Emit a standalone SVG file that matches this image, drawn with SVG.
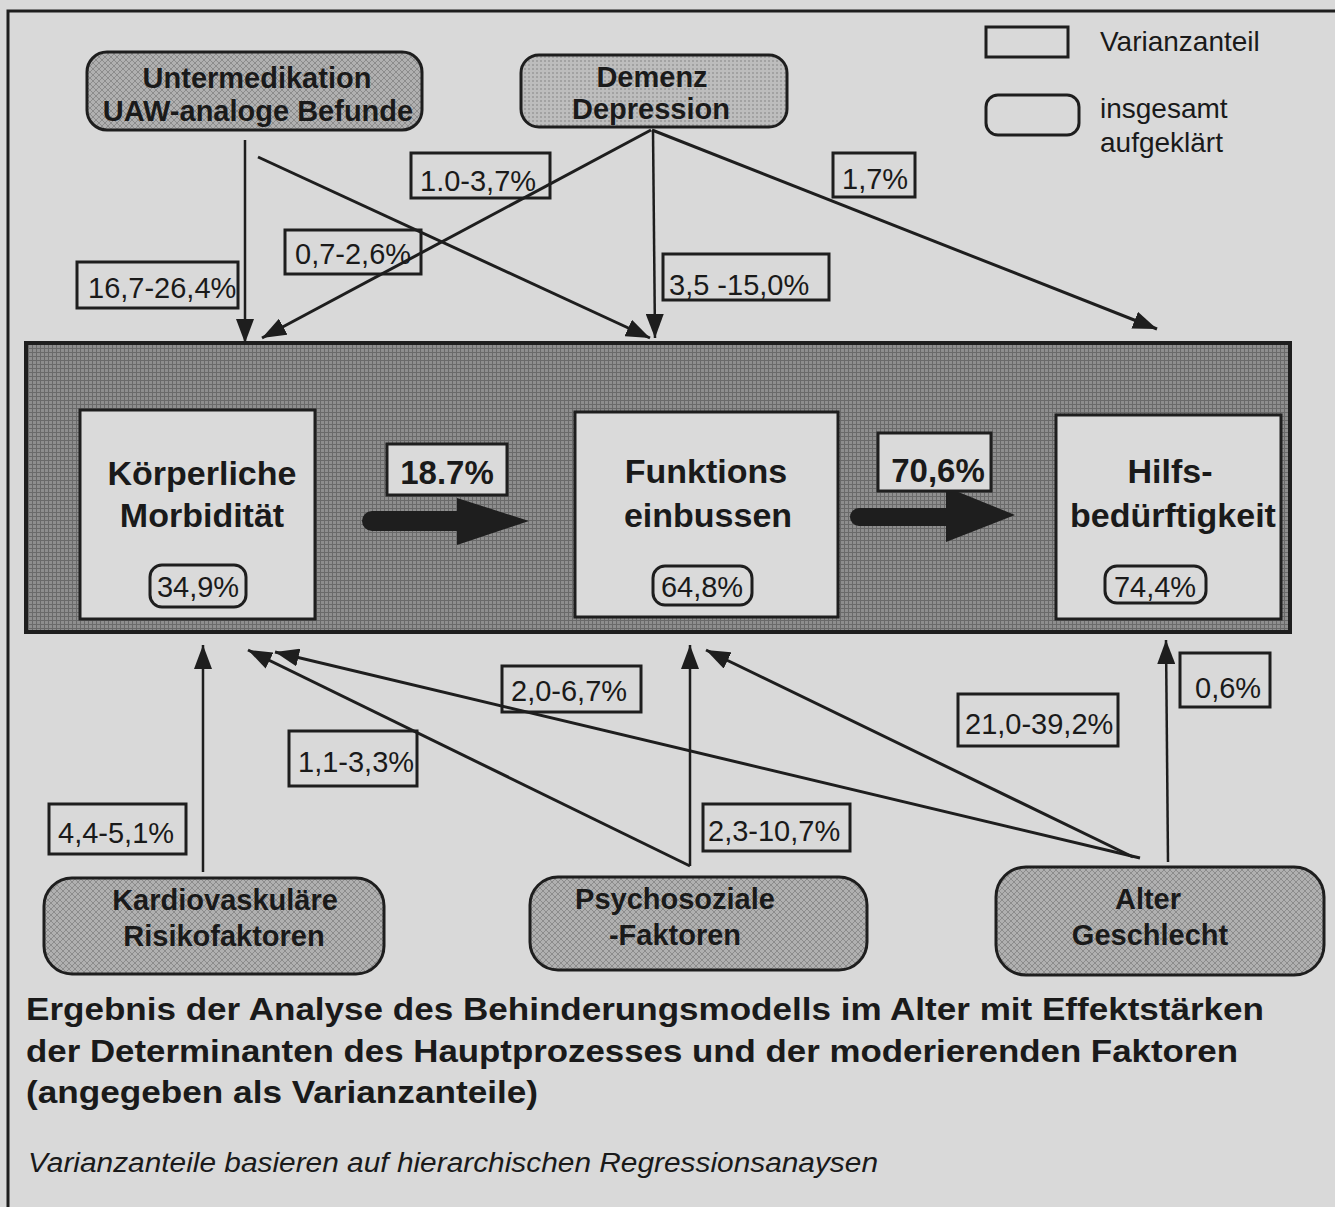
<svg xmlns="http://www.w3.org/2000/svg" width="1335" height="1207" viewBox="0 0 1335 1207">
<defs>
<style>
.bg{fill:#d9d9d9}
.ln{stroke:#1e1e1e;stroke-width:2.5;fill:none}
.lnb{stroke:#1e1e1e;stroke-width:3;fill:none}
.lbl{fill:none;stroke:#1e1e1e;stroke-width:3}
.t{font-family:"Liberation Sans",Arial,sans-serif;fill:#1a1a1a}
.lt{font-size:29px}
.nb{font-weight:bold;font-size:29px;text-anchor:middle}
.mb{font-weight:bold;font-size:34px;text-anchor:middle}
.pill{fill:none;stroke:#1e1e1e;stroke-width:3}
.inner{fill:#dadada;stroke:#1e1e1e;stroke-width:3}
</style>
<pattern id="hatch" width="6" height="6" patternUnits="userSpaceOnUse">
<rect width="6" height="6" fill="#b0b0b0"/>
<path d="M0,0 L6,6 M6,0 L0,6" stroke="#8c8c8c" stroke-width="1"/>
</pattern>
<pattern id="dots" width="4" height="4" patternUnits="userSpaceOnUse">
<rect width="4" height="4" fill="#bdbdbd"/>
<rect width="2" height="2" fill="#a2a2a2"/>
</pattern>
<pattern id="grid" width="4" height="4" patternUnits="userSpaceOnUse">
<rect width="4" height="4" fill="#8e8e8e"/>
<path d="M0,0.5 H4 M0.5,0 V4" stroke="#6a6a6a" stroke-width="1"/>
</pattern>
<marker id="ah" viewBox="0 0 24 18" refX="24" refY="9" markerWidth="24" markerHeight="18" markerUnits="userSpaceOnUse" orient="auto">
<path d="M0,0 L24,9 L0,18 z" fill="#1e1e1e"/>
</marker>
</defs>

<rect class="bg" x="0" y="0" width="1335" height="1207"/>
<path d="M8,1207 V11 H1335" stroke="#1e1e1e" stroke-width="3" fill="none"/>

<!-- legend -->
<g id="legend">
<rect x="986" y="27" width="82" height="30" class="lbl"/>
<text x="1100" y="51" class="t" font-size="28">Varianzanteil</text>
<rect x="986" y="95" width="93" height="40" rx="12" class="lbl"/>
<text x="1100" y="118" class="t" font-size="28">insgesamt</text>
<text x="1100" y="152" class="t" font-size="28">aufgeklärt</text>
</g>

<!-- main band -->
<g id="hauptprozess">
<rect x="26" y="343" width="1264" height="289" fill="url(#grid)" stroke="#1e1e1e" stroke-width="4"/>
</g>

<g id="morbiditaet">
<rect x="80" y="410" width="235" height="209" class="inner"/>
<text x="202" y="485" class="t mb">Körperliche</text>
<text x="202" y="527" class="t mb">Morbidität</text>
<rect x="150" y="565" width="96" height="42" rx="12" class="pill"/>
<text x="198" y="597" class="t" font-size="29" text-anchor="middle">34,9%</text>
</g>

<g id="funktion">
<rect x="575" y="412" width="263" height="205" class="inner"/>
<text x="706" y="483" class="t mb">Funktions</text>
<text x="708" y="527" class="t mb">einbussen</text>
<rect x="653" y="566" width="99" height="39" rx="12" class="pill"/>
<text x="702" y="597" class="t" font-size="29" text-anchor="middle">64,8%</text>
</g>

<g id="hilfsbeduerftigkeit">
<rect x="1056" y="415" width="225" height="204" class="inner"/>
<text x="1170" y="483" class="t mb">Hilfs-</text>
<text x="1173" y="527" class="t mb">bedürftigkeit</text>
<rect x="1105" y="566" width="101" height="37" rx="12" class="pill"/>
<text x="1155" y="597" class="t" font-size="29" text-anchor="middle">74,4%</text>
</g>

<g id="untermedikation">
<rect x="87" y="52" width="335" height="78" rx="20" fill="url(#hatch)" stroke="#1e1e1e" stroke-width="3"/>
<text x="257" y="88" class="t nb">Untermedikation</text>
<text x="258" y="121" class="t nb">UAW-analoge Befunde</text>
</g>

<g id="demenz">
<rect x="521" y="55" width="266" height="72" rx="18" fill="url(#dots)" stroke="#1e1e1e" stroke-width="3"/>
<text x="652" y="87" class="t nb">Demenz</text>
<text x="651" y="119" class="t nb">Depression</text>
</g>

<g id="kardiovaskulaer">
<rect x="44" y="878" width="340" height="96" rx="28" fill="url(#hatch)" stroke="#1e1e1e" stroke-width="3"/>
<text x="225" y="910" class="t nb" font-size="27">Kardiovaskuläre</text>
<text x="224" y="946" class="t nb" font-size="27">Risikofaktoren</text>
</g>

<g id="psychosozial">
<rect x="530" y="877" width="337" height="93" rx="28" fill="url(#hatch)" stroke="#1e1e1e" stroke-width="3"/>
<text x="675" y="909" class="t nb" font-size="27">Psychosoziale</text>
<text x="675" y="945" class="t nb" font-size="27">-Faktoren</text>
</g>

<g id="alter">
<rect x="996" y="867" width="328" height="108" rx="30" fill="url(#hatch)" stroke="#1e1e1e" stroke-width="3"/>
<text x="1148" y="909" class="t nb" font-size="27">Alter</text>
<text x="1150" y="945" class="t nb" font-size="27">Geschlecht</text>
</g>

<g id="connectors">
<line x1="245" y1="140" x2="245" y2="343" class="ln" marker-end="url(#ah)"/>
<line x1="258" y1="157" x2="650" y2="338" class="lnb" marker-end="url(#ah)"/>
<line x1="651" y1="130" x2="262" y2="338" class="lnb" marker-end="url(#ah)"/>
<line x1="653" y1="130" x2="655" y2="338" class="ln" marker-end="url(#ah)"/>
<line x1="652" y1="130" x2="1157" y2="329" class="lnb" marker-end="url(#ah)"/>

<line x1="203" y1="872" x2="203" y2="645" class="ln" marker-end="url(#ah)"/>
<line x1="690" y1="866" x2="248" y2="650" class="lnb" marker-end="url(#ah)"/>
<line x1="690" y1="866" x2="690" y2="645" class="ln" marker-end="url(#ah)"/>
<line x1="1140" y1="858" x2="275" y2="652" class="lnb" marker-end="url(#ah)"/>
<line x1="1133" y1="857" x2="706" y2="650" class="lnb" marker-end="url(#ah)"/>
<line x1="1168" y1="862" x2="1166" y2="640" class="ln" marker-end="url(#ah)"/>

<!-- thick main arrows -->
<path d="M372,511 H457 V498 L529,521 L457,545 V531 H372 A10,10 0 0 1 372,511 z" fill="#1e1e1e"/>
<path d="M859,508 H946 V487 L1015,515 L946,542 V526 H859 A9,9 0 0 1 859,508 z" fill="#1e1e1e"/>
</g>

<g id="labels">
<rect x="411" y="153" width="139" height="45" class="lbl"/>
<text x="420" y="191" class="t lt">1.0-3,7%</text>
<rect x="285" y="230" width="136" height="44" class="lbl"/>
<text x="295" y="264" class="t lt">0,7-2,6%</text>
<rect x="77" y="262" width="161" height="46" class="lbl"/>
<text x="88" y="298" class="t lt">16,7-26,4%</text>
<rect x="663" y="254" width="166" height="46" class="lbl"/>
<text x="669" y="295" class="t lt">3,5 -15,0%</text>
<rect x="833" y="153" width="82" height="44" class="lbl"/>
<text x="842" y="189" class="t lt">1,7%</text>

<rect x="387" y="444" width="120" height="51" fill="#dadada" stroke="#1e1e1e" stroke-width="3"/>
<text x="447" y="484" class="t" font-size="33" font-weight="bold" text-anchor="middle">18.7%</text>
<rect x="878" y="433" width="113" height="58" fill="#dadada" stroke="#1e1e1e" stroke-width="3"/>
<text x="938" y="482" class="t" font-size="33" font-weight="bold" text-anchor="middle">70,6%</text>

<rect x="502" y="666" width="139" height="46" class="lbl"/>
<text x="511" y="701" class="t lt">2,0-6,7%</text>
<rect x="289" y="731" width="128" height="55" class="lbl"/>
<text x="298" y="772" class="t lt">1,1-3,3%</text>
<rect x="49" y="804" width="137" height="50" class="lbl"/>
<text x="58" y="843" class="t lt">4,4-5,1%</text>
<rect x="703" y="804" width="147" height="47" class="lbl"/>
<text x="708" y="841" class="t lt">2,3-10,7%</text>
<rect x="958" y="694" width="160" height="52" class="lbl"/>
<text x="965" y="734" class="t lt">21,0-39,2%</text>
<rect x="1180" y="653" width="90" height="54" class="lbl"/>
<text x="1195" y="698" class="t lt">0,6%</text>
</g>

<g id="caption">
<text x="26" y="1020" class="t" font-size="31" font-weight="bold" textLength="1238" lengthAdjust="spacingAndGlyphs">Ergebnis der Analyse des Behinderungsmodells im Alter mit Effektstärken</text>
<text x="26" y="1062" class="t" font-size="31" font-weight="bold" textLength="1212" lengthAdjust="spacingAndGlyphs">der Determinanten des Hauptprozesses und der moderierenden Faktoren</text>
<text x="26" y="1103" class="t" font-size="31" font-weight="bold" textLength="512" lengthAdjust="spacingAndGlyphs">(angegeben als Varianzanteile)</text>
<text x="28" y="1172" class="t" font-size="27" font-style="italic" textLength="850" lengthAdjust="spacingAndGlyphs">Varianzanteile basieren auf hierarchischen Regressionsanaysen</text>
</g>
</svg>
